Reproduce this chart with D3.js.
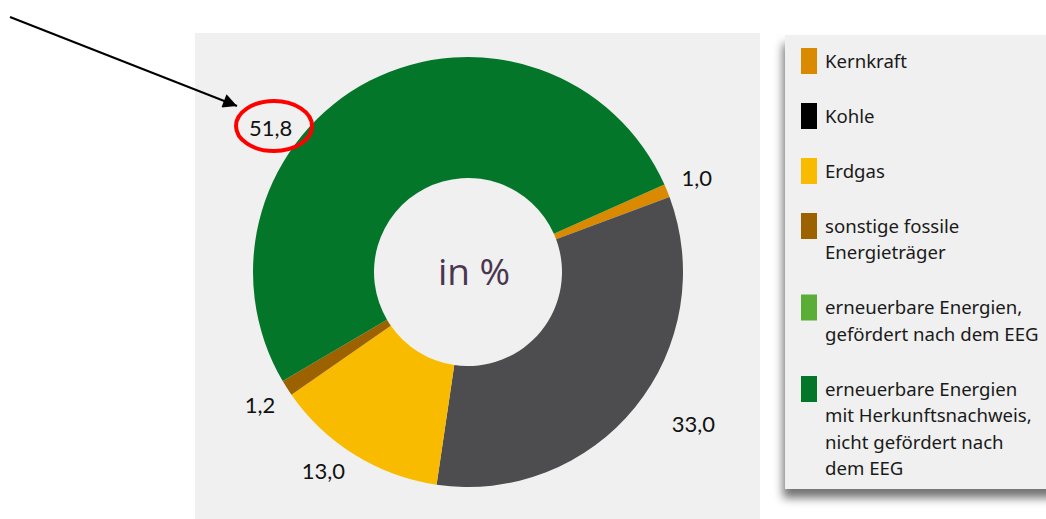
<!DOCTYPE html>
<html>
<head>
<meta charset="utf-8">
<script src="https://cdn.jsdelivr.net/npm/d3@7"></script>
<style>
  body { margin: 0; background: #ffffff; }
  svg { display: block; }
</style>
</head>
<body>
<div id="container"></div>
<script>
/* DATA */
const categories = [
  "Kernkraft",
  "Kohle",
  "Erdgas",
  "sonstige fossile Energieträger",
  "erneuerbare Energien, gefördert nach dem EEG",
  "erneuerbare Energien mit Herkunftsnachweis, nicht gefördert nach dem EEG"
];
const values = [1.0, 33.0, 13.0, 1.2, 0, 51.8];
const legendLines = [
  ["Kernkraft"],
  ["Kohle"],
  ["Erdgas"],
  ["sonstige fossile", "Energieträger"],
  ["erneuerbare Energien,", "gefördert nach dem EEG"],
  ["erneuerbare Energien", "mit Herkunftsnachweis,", "nicht gefördert nach", "dem EEG"]
];
const centerLabel = "in %";

/* CONSTANTS */
const width = 1046,
  height = 519;
const cx = 468, cy = 272;
const outerR = 215, innerR = 94, labelR = 247;
const startDeg = 66;
const sliceColors = ["#d98a00", "#4d4c4e", "#f9bb00", "#9c6200", "#5aae38", "#04762a"];
const swatchColors = ["#d98a00", "#000000", "#f9bb00", "#9c6200", "#5aae38", "#04762a"];
// hand placement of some value labels: [angle in degrees, radius]
const labelOverrides = { 1: [124, 272], 2: [216, 246], 5: [-54, 244] };
const fmt = v => d3.format(".1f")(v).replace(".", ",");

const svg = d3.select("#container")
  .append("svg")
  .attr("width", width)
  .attr("height", height);

const defs = svg.append("defs");

const shadow = defs.append("filter")
  .attr("id", "shadow")
  .attr("x", "-10%").attr("y", "-10%")
  .attr("width", "130%").attr("height", "130%");
shadow.append("feDropShadow")
  .attr("dx", -2).attr("dy", 9)
  .attr("stdDeviation", 5)
  .attr("flood-color", "#000")
  .attr("flood-opacity", 0.55);

defs.append("marker")
  .attr("id", "arrowhead")
  .attr("viewBox", "0 0 10 10")
  .attr("refX", 10).attr("refY", 5)
  .attr("markerWidth", 9).attr("markerHeight", 7)
  .attr("markerUnits", "strokeWidth")
  .attr("orient", "auto")
  .append("path")
  .attr("d", "M0,0 L10,5 L0,10 z")
  .attr("fill", "#000");

// chart panel
svg.append("rect")
  .attr("x", 195).attr("y", 33)
  .attr("width", 565).attr("height", height - 33)
  .attr("fill", "#eff0ef");

/* DONUT */
const pie = d3.pie()
  .sort(null)
  .value(d => d)
  .startAngle(startDeg * Math.PI / 180)
  .endAngle((startDeg + 360) * Math.PI / 180);

const arcs = pie(values);

const arc = d3.arc().innerRadius(innerR).outerRadius(outerR);
const labelArc = d3.arc().innerRadius(labelR).outerRadius(labelR);

const g = svg.append("g").attr("transform", `translate(${cx},${cy})`);

g.selectAll("path.slice")
  .data(arcs.filter(d => d.value > 0))
  .join("path")
  .attr("class", "slice")
  .attr("d", arc)
  .attr("fill", d => sliceColors[d.index]);

const labelPos = d => {
  const o = labelOverrides[d.index];
  if (o) {
    const a = o[0] * Math.PI / 180;
    return [Math.sin(a) * o[1], -Math.cos(a) * o[1]];
  }
  return labelArc.centroid(d);
};

g.selectAll("text.value")
  .data(arcs.filter(d => d.value > 0))
  .join("text")
  .attr("class", "value")
  .attr("x", d => labelPos(d)[0])
  .attr("y", d => labelPos(d)[1])
  .attr("dy", "0.35em")
  .attr("text-anchor", "middle")
  .attr("font-family", "Lato, 'Open Sans', sans-serif")
  .attr("font-size", 22)
  .attr("fill", "#111")
  .text(d => fmt(d.value));

g.append("text")
  .attr("x", 6)
  .attr("y", 0)
  .attr("dy", "0.36em")
  .attr("text-anchor", "middle")
  .attr("font-family", "'Open Sans', 'Noto Sans', sans-serif")
  .attr("font-size", 37)
  .attr("fill", "#4a3650")
  .text(centerLabel);

/* LEGEND */
const legend = svg.append("g");
legend.append("rect")
  .attr("x", 785).attr("y", 35)
  .attr("width", 300).attr("height", 454)
  .attr("fill", "#eff0ef")
  .attr("filter", "url(#shadow)");

const lineH = 26.5, itemGap = 55;
let yCursor = 61;
const items = categories.map((c, i) => {
  const item = { i, y: yCursor, lines: legendLines[i] };
  yCursor += (legendLines[i].length - 1) * lineH + itemGap;
  return item;
});

const item = legend.selectAll("g.item")
  .data(items)
  .join("g")
  .attr("class", "item")
  .attr("transform", d => `translate(0,${d.y})`);

item.append("rect")
  .attr("x", 801).attr("y", -13)
  .attr("width", 16).attr("height", 26)
  .attr("fill", d => swatchColors[d.i]);

item.append("text")
  .attr("font-family", "'Noto Sans', 'Open Sans', sans-serif")
  .attr("font-size", 18.6)
  .attr("fill", "#1a1a1a")
  .selectAll("tspan")
  .data(d => d.lines)
  .join("tspan")
  .attr("x", 825)
  .attr("y", (d, j) => j * lineH)
  .attr("dy", "0.35em")
  .text(d => d);

/* ANNOTATION */
svg.append("line")
  .attr("x1", 10).attr("y1", 17)
  .attr("x2", 237).attr("y2", 106)
  .attr("stroke", "#000")
  .attr("stroke-width", 2)
  .attr("marker-end", "url(#arrowhead)");

svg.append("ellipse")
  .attr("cx", 274).attr("cy", 126)
  .attr("rx", 38).attr("ry", 25)
  .attr("fill", "none")
  .attr("stroke", "#ff0000")
  .attr("stroke-width", 4);
</script>
</body>
</html>
